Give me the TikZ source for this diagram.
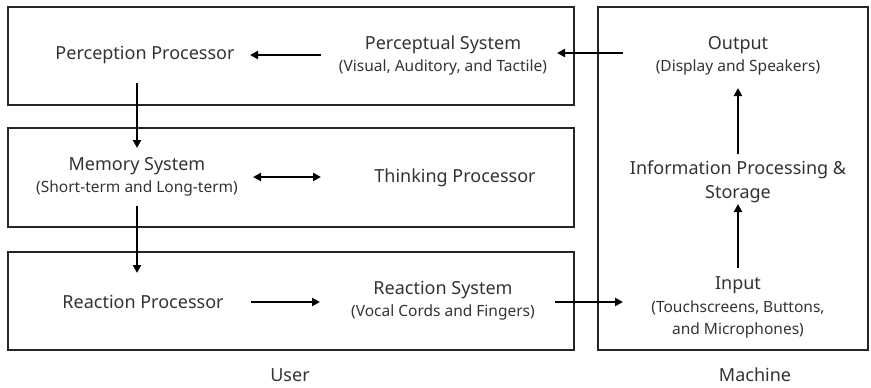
\documentclass[tikz,border=0pt]{standalone}
\usepackage{fontspec}
\setmainfont{Noto Sans}
\usetikzlibrary{arrows.meta}
\begin{document}
\begin{tikzpicture}[x=1pt,y=-1pt,
  frame/.style={draw=black!85,line width=1.8pt},
  lbl/.style={font=\fontsize{18}{22}\selectfont,text=black!80,inner sep=0pt,align=center},
  sub/.style={font=\fontsize{15.5}{19}\selectfont,text=black!80,inner sep=0pt,align=center},
  flow/.style={line width=2.7pt,-{Triangle[length=8pt,width=8pt]}},
  both/.style={line width=2.7pt,{Triangle[length=8pt,width=8pt]}-{Triangle[length=8pt,width=8pt]}}]
\useasboundingbox (0,0) rectangle (871,388);
% panels
\draw[frame] (8,7) rectangle (574,105);
\draw[frame] (8,128) rectangle (574,227);
\draw[frame] (8,252) rectangle (574,350);
\draw[frame] (598,7) rectangle (868,350);
% user side
\node[lbl] (pp) at (145,55) {Perception Processor};
\node[lbl] (ps) at (443,45) {Perceptual System};
\node[sub] (pss) at (443,67) {(Visual, Auditory, and Tactile)};
\node[lbl] (ms) at (137,166) {Memory System};
\node[sub] (mss) at (137,188) {(Short-term and Long-term)};
\node[lbl] (tp) at (455,178) {Thinking Processor};
\node[lbl] (rp) at (143,302) {Reaction Processor};
\node[lbl] (rs) at (443,290) {Reaction System};
\node[sub] (rss) at (443,312) {(Vocal Cords and Fingers)};
% machine side
\node[lbl] (out) at (738,45) {Output};
\node[sub] (outs) at (738,67) {(Display and Speakers)};
\node[lbl] (ip) at (738,182) {Information Processing \&\\[2pt]Storage};
\node[lbl] (in) at (738,285) {Input};
\node[sub] (ins) at (738,319) {(Touchscreens, Buttons,\\[3pt]and Microphones)};
% captions
\node[lbl] (user) at (290,375) {User};
\node[lbl] (mach) at (755,375) {Machine};
% anchor points for the connectors
\coordinate (a1) at (623,53);
\coordinate (a2) at (557,53);
\coordinate (b1) at (321,55);
\coordinate (b2) at (250,55);
\coordinate (c1) at (137,83);
\coordinate (c2) at (137,148);
\coordinate (d1) at (253,177);
\coordinate (d2) at (321,177);
\coordinate (e1) at (137,206);
\coordinate (e2) at (137,273);
\coordinate (f1) at (251,302);
\coordinate (f2) at (320,302);
\coordinate (g1) at (555,302);
\coordinate (g2) at (623,302);
\coordinate (h1) at (738,268);
\coordinate (h2) at (738,204);
\coordinate (k1) at (738,154);
\coordinate (k2) at (738,88);
% connectors
\draw[flow] (a1) -- (a2);
\draw[flow] (b1) -- (b2);
\draw[flow] (c1) -- (c2);
\draw[both] (d1) -- (d2);
\draw[flow] (e1) -- (e2);
\draw[flow] (f1) -- (f2);
\draw[flow] (g1) -- (g2);
\draw[flow] (h1) -- (h2);
\draw[flow] (k1) -- (k2);
\end{tikzpicture}
\end{document}
